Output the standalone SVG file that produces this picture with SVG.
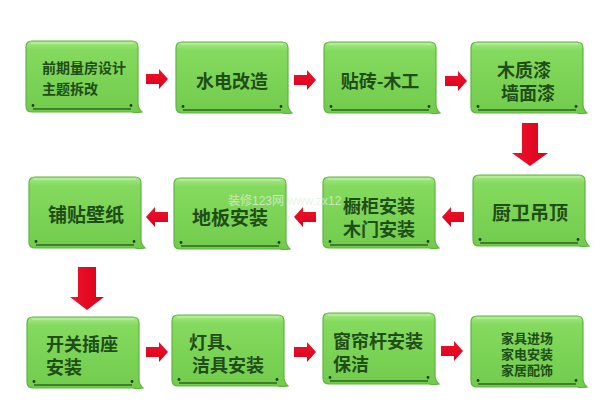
<svg xmlns="http://www.w3.org/2000/svg" xmlns:xlink="http://www.w3.org/1999/xlink" width="600" height="416" viewBox="0 0 600 416">
<defs>
<linearGradient id="gBox" x1="0" y1="0" x2="0" y2="1">
<stop offset="0" stop-color="#a6ea86"/>
<stop offset="0.12" stop-color="#84da5e"/>
<stop offset="1" stop-color="#72cc4c"/>
</linearGradient>
<linearGradient id="gRed" x1="0" y1="0" x2="0" y2="1">
<stop offset="0" stop-color="#f0142c"/>
<stop offset="1" stop-color="#d8001a"/>
</linearGradient>
<linearGradient id="gRedV" x1="0" y1="0" x2="1" y2="0">
<stop offset="0" stop-color="#f0142c"/>
<stop offset="1" stop-color="#d8001a"/>
</linearGradient>
<g id="box">
<path d="M6,0 H106 Q112,0 112,6 V63 Q112,67 116,71 Q110,72 106,71 H6 Q0,71 0,65 V6 Q0,0 6,0 Z" fill="url(#gBox)" stroke="#5fb441" stroke-width="1.2"/>
<line x1="5" y1="2" x2="107" y2="2" stroke="#d6f5c4" stroke-width="1.2" opacity="0.8"/>
<line x1="7" y1="68" x2="105" y2="68" stroke="#3f7f2c" stroke-width="2"/>
<circle cx="7" cy="64.5" r="1.4" fill="#1e3d18"/>
<circle cx="105" cy="64.5" r="1.4" fill="#1e3d18"/>
</g>
<path id="arrR" d="M0,-5 H13 V-10 L22,0 L13,10 V5 H0 Z" fill="url(#gRed)"/>
<path id="arrL" d="M0,-5 H-13 V-10 L-22,0 L-13,10 V5 H0 Z" fill="url(#gRed)"/>
</defs>
<style>
text{font-family:"Noto Sans CJK SC","Noto Sans",sans-serif;fill:#1f4d18;font-weight:700}
.s13{font-size:13px}
.s14{font-size:14px}
.s18{font-size:18px}
.s19{font-size:19px}
.c{text-anchor:middle}
.wm{font-family:"Liberation Sans","Noto Sans CJK SC",sans-serif;font-weight:400;font-size:12px;fill:#e4eee2;fill-opacity:0.75}
</style>
<rect width="600" height="416" fill="#ffffff"/>

<g id="connectors">
<use xlink:href="#arrR" transform="translate(146,79)"/>
<use xlink:href="#arrR" transform="translate(294,80)"/>
<use xlink:href="#arrR" transform="translate(445,81)"/>
<path d="M522,123 H538 V153 H548 L530,166 L512,153 H522 Z" fill="url(#gRedV)"/>
<use xlink:href="#arrL" transform="translate(464,217)"/>
<use xlink:href="#arrL" transform="translate(316,217)"/>
<use xlink:href="#arrL" transform="translate(168,217)"/>
<path d="M78,267 H96 V297 H104 L87,310 L70,297 H78 Z" fill="url(#gRedV)"/>
<use xlink:href="#arrR" transform="translate(146,352)"/>
<use xlink:href="#arrR" transform="translate(294,352)"/>
<use xlink:href="#arrR" transform="translate(441,351)"/>
</g>

<g id="n1" transform="translate(26,41)">
<use xlink:href="#box"/>
<text class="s14" x="16" y="32">前期量房设计</text>
<text class="s14" x="16" y="53">主题拆改</text>
</g>
<g id="n2" transform="translate(176,42)">
<use xlink:href="#box"/>
<text class="s18 c" x="56" y="46">水电改造</text>
</g>
<g id="n3" transform="translate(324,42)">
<use xlink:href="#box"/>
<text class="s18 c" x="56" y="46">贴砖-木工</text>
</g>
<g id="n4" transform="translate(471,42)">
<use xlink:href="#box"/>
<text class="s18" x="26" y="35">木质漆</text>
<text class="s18" x="30" y="58">墙面漆</text>
</g>
<g id="n5" transform="translate(473,175)">
<use xlink:href="#box"/>
<text class="s19 c" x="57" y="45">厨卫吊顶</text>
</g>
<g id="n6" transform="translate(323,177)">
<use xlink:href="#box"/>
<text class="s18" x="20" y="36">橱柜安装</text>
<text class="s18" x="20" y="59">木门安装</text>
</g>
<g id="n7" transform="translate(174,178)">
<use xlink:href="#box"/>
<text class="s19 c" x="56" y="47">地板安装</text>
</g>
<g id="n8" transform="translate(29,177)">
<use xlink:href="#box"/>
<text class="s19 c" x="57" y="45">铺贴壁纸</text>
</g>
<g id="n9" transform="translate(27,317)">
<use xlink:href="#box"/>
<text class="s18" x="19" y="34">开关插座</text>
<text class="s18" x="19" y="57">安装</text>
</g>
<g id="n10" transform="translate(172,315)">
<use xlink:href="#box"/>
<text class="s18" x="17" y="34">灯具、</text>
<text class="s18" x="20" y="57">洁具安装</text>
</g>
<g id="n11" transform="translate(323,313)">
<use xlink:href="#box"/>
<text class="s18" x="10" y="35">窗帘杆安装</text>
<text class="s18" x="10" y="58">保洁</text>
</g>
<g id="n12" transform="translate(471,316)">
<use xlink:href="#box"/>
<text class="s13" x="30" y="27">家具进场</text>
<text class="s13" x="30" y="43">家电安装</text>
<text class="s13" x="30" y="59">家居配饰</text>
</g>

<text class="wm" x="228" y="205">装修123网 www.zx12</text>
</svg>
